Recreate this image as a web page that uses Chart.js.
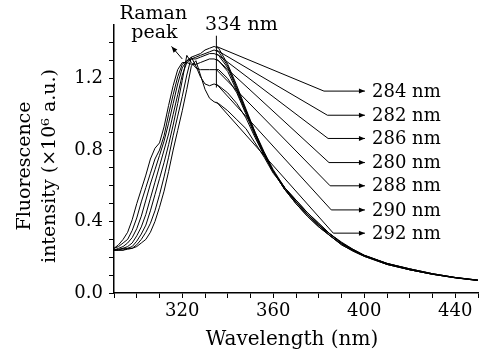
<!DOCTYPE html>
<html>
<head>
<meta charset="utf-8">
<script src="https://cdn.jsdelivr.net/npm/chart.js@4.4.1/dist/chart.umd.min.js"></script>
<style>
  html, body { margin: 0; padding: 0; background: #fff; }
  #wrap { width: 481px; height: 354px; }
</style>
</head>
<body>
<div id="wrap"><canvas id="spectra"></canvas></div>
<script>
// wavelength grid (nm)
const wavelengths = [290, 292, 294, 296, 298, 300, 302, 304, 306, 308, 310, 312, 314, 316, 318, 320, 322, 324, 326, 328, 330, 332, 334, 336,
                     340, 344, 348, 352, 356, 360, 365, 370, 375, 380, 385, 390, 395, 400, 410, 420, 430, 440, 450];

// fluorescence intensity (x10^6 a.u.) for each excitation wavelength
const ex280 = [0.25, 0.27, 0.30, 0.34, 0.41, 0.50, 0.58, 0.66, 0.75, 0.81, 0.84, 0.93, 1.05, 1.16, 1.25, 1.29, 1.29, 1.28, 1.28, 1.29, 1.30, 1.31, 1.31, 1.30,
               1.24, 1.13, 1.01, 0.89, 0.78, 0.68, 0.58, 0.50, 0.43, 0.37, 0.32, 0.27, 0.235, 0.205, 0.16, 0.13, 0.105, 0.085, 0.07];
const ex282 = [0.25, 0.26, 0.28, 0.30, 0.35, 0.42, 0.51, 0.59, 0.67, 0.75, 0.80, 0.88, 1.00, 1.11, 1.21, 1.28, 1.30, 1.31, 1.32, 1.33, 1.34, 1.35, 1.36, 1.35,
               1.27, 1.15, 1.02, 0.90, 0.78, 0.68, 0.58, 0.50, 0.43, 0.37, 0.32, 0.27, 0.235, 0.205, 0.16, 0.13, 0.105, 0.085, 0.07];
const ex284 = [0.24, 0.25, 0.26, 0.28, 0.31, 0.36, 0.43, 0.52, 0.61, 0.69, 0.77, 0.85, 0.95, 1.06, 1.17, 1.26, 1.30, 1.32, 1.33, 1.34, 1.36, 1.37, 1.38, 1.37,
               1.28, 1.16, 1.03, 0.90, 0.79, 0.69, 0.59, 0.51, 0.44, 0.38, 0.33, 0.28, 0.24, 0.21, 0.165, 0.13, 0.105, 0.086, 0.071];
const ex286 = [0.24, 0.245, 0.25, 0.26, 0.28, 0.32, 0.37, 0.44, 0.53, 0.62, 0.71, 0.80, 0.89, 1.00, 1.11, 1.22, 1.29, 1.31, 1.31, 1.32, 1.33, 1.34, 1.34, 1.33,
               1.26, 1.14, 1.02, 0.89, 0.78, 0.68, 0.58, 0.51, 0.44, 0.38, 0.32, 0.275, 0.24, 0.21, 0.16, 0.13, 0.105, 0.085, 0.07];
const ex288 = [0.24, 0.24, 0.25, 0.25, 0.26, 0.29, 0.33, 0.38, 0.46, 0.55, 0.64, 0.73, 0.83, 0.94, 1.06, 1.19, 1.33, 1.29, 1.26, 1.25, 1.25, 1.25, 1.25, 1.25,
               1.20, 1.12, 1.00, 0.88, 0.77, 0.68, 0.59, 0.51, 0.44, 0.38, 0.33, 0.28, 0.24, 0.21, 0.165, 0.135, 0.108, 0.087, 0.072];
const ex290 = [0.24, 0.24, 0.24, 0.25, 0.25, 0.27, 0.30, 0.34, 0.39, 0.46, 0.55, 0.65, 0.76, 0.88, 0.99, 1.10, 1.22, 1.32, 1.27, 1.21, 1.17, 1.16, 1.17, 1.16,
               1.12, 1.06, 0.98, 0.87, 0.77, 0.68, 0.59, 0.52, 0.45, 0.39, 0.33, 0.28, 0.245, 0.21, 0.165, 0.135, 0.108, 0.087, 0.072];
const ex292 = [0.24, 0.24, 0.24, 0.245, 0.25, 0.26, 0.28, 0.30, 0.34, 0.40, 0.48, 0.57, 0.68, 0.80, 0.91, 1.02, 1.14, 1.27, 1.30, 1.22, 1.14, 1.09, 1.07, 1.06,
               1.02, 0.97, 0.92, 0.84, 0.76, 0.67, 0.59, 0.52, 0.45, 0.39, 0.33, 0.285, 0.245, 0.212, 0.166, 0.135, 0.108, 0.087, 0.072];

const excitation = ["280 nm", "282 nm", "284 nm", "286 nm", "288 nm", "290 nm", "292 nm"];
const seriesList = [ex280, ex282, ex284, ex286, ex288, ex290, ex292];

// labels on the right, top to bottom
const labelOrder = ["284 nm", "282 nm", "286 nm", "280 nm", "288 nm", "290 nm", "292 nm"];
const labelLevels = [1.13, 0.995, 0.865, 0.73, 0.60, 0.465, 0.335];
const bendAt = [382.3, 383.8, 384.1, 384.5, 385.0, 385.5, 386.4];

const xLabelTicks = [320, 360, 400, 440];
const yLabelTicks = [0.0, 0.4, 0.8, 1.2];

const FONT = "'DejaVu Serif', serif";

function arrowHead(ctx, x0, y0, x1, y1, len, half) {
    const a = Math.atan2(y1 - y0, x1 - x0);
    ctx.beginPath();
    ctx.moveTo(x1, y1);
    ctx.lineTo(x1 - len * Math.cos(a) + half * Math.sin(a), y1 - len * Math.sin(a) - half * Math.cos(a));
    ctx.lineTo(x1 - len * Math.cos(a) - half * Math.sin(a), y1 - len * Math.sin(a) + half * Math.cos(a));
    ctx.closePath();
    ctx.fill();
}

const annotations = {
    id: "annotations",
    afterDatasetsDraw(chart) {
        const ctx = chart.ctx, xs = chart.scales.x, ys = chart.scales.y;
        const px = v => xs.getPixelForValue(v), py = v => ys.getPixelForValue(v);
        ctx.save();
        ctx.strokeStyle = "#000";
        ctx.fillStyle = "#000";
        ctx.lineWidth = 1;

        // marker at 334 nm
        ctx.beginPath();
        ctx.moveTo(px(335), py(1.44));
        ctx.lineTo(px(335), py(1.15));
        ctx.stroke();

        // leader lines to the excitation labels
        const i334 = wavelengths.indexOf(334);
        ctx.font = "18px " + FONT;
        ctx.textBaseline = "middle";
        ctx.textAlign = "left";
        labelOrder.forEach((lab, k) => {
            const s = seriesList[excitation.indexOf(lab)];
            const y0 = py(s[i334]), y1 = py(labelLevels[k]);
            ctx.beginPath();
            ctx.moveTo(px(335), y0);
            ctx.lineTo(px(bendAt[k]), y1);
            ctx.lineTo(px(400.3), y1);
            ctx.stroke();
            arrowHead(ctx, px(bendAt[k]), y1, px(400.3), y1, 6, 2.5);
            ctx.fillText(lab, px(403.4), y1 + 1);
        });

        // Raman peak arrow
        ctx.beginPath();
        ctx.moveTo(px(320), py(1.31));
        ctx.lineTo(px(315.3), py(1.38));
        ctx.stroke();
        arrowHead(ctx, px(320), py(1.31), px(315.3), py(1.38), 6, 2.5);

        ctx.textAlign = "center";
        ctx.font = "19px " + FONT;
        ctx.fillText("Raman", px(307.3), 14);
        ctx.fillText("peak", px(307.8), 33);
        ctx.fillText("334 nm", px(346), 25);

        // axis titles
        ctx.font = "20px " + FONT;
        ctx.fillText("Wavelength (nm)", 292, 340);
        ctx.font = "19px " + FONT;
        ctx.translate(25, 166);
        ctx.rotate(-Math.PI / 2);
        ctx.fillText("Fluorescence", 0, 0);
        ctx.fillText("intensity (\u00d710\u2076 a.u.)", 0, 25);
        ctx.restore();
    }
};

new Chart(document.getElementById("spectra"), {
    type: "line",
    data: {
        datasets: seriesList.map((vals, i) => ({
            label: excitation[i],
            data: wavelengths.map((w, j) => ({ x: w, y: vals[j] })),
            borderColor: "#000",
            borderWidth: 1,
            pointRadius: 0,
            tension: 0,
            fill: false
        }))
    },
    options: {
        responsive: true,
        maintainAspectRatio: false,
        animation: false,
        layout: { padding: { top: 25, right: 0, left: 0, bottom: 0 } },
        plugins: { legend: { display: false }, tooltip: { enabled: false } },
        scales: {
            x: {
                type: "linear",
                min: 290,
                max: 450,
                afterFit: s => { s.height = 61; },
                border: { color: "#000", width: 1.5 },
                grid: { drawOnChartArea: false, color: "#000", tickLength: 5 },
                ticks: {
                    stepSize: 10,
                    autoSkip: false,
                    maxRotation: 0,
                    padding: 3,
                    color: "#000",
                    font: { family: FONT, size: 18 },
                    callback: v => xLabelTicks.includes(v) ? String(v) : ""
                }
            },
            y: {
                min: 0,
                max: 1.5,
                afterFit: s => { s.width = 114; },
                afterBuildTicks: s => { s.ticks = s.ticks.filter(t => t.value < 1.45); },
                border: { color: "#000", width: 1.5 },
                grid: { drawOnChartArea: false, color: "#000", tickLength: 5 },
                ticks: {
                    stepSize: 0.1,
                    autoSkip: false,
                    padding: 6,
                    color: "#000",
                    font: { family: FONT, size: 18 },
                    callback: v => yLabelTicks.some(t => Math.abs(t - v) < 1e-6) ? v.toFixed(1) : ""
                }
            }
        }
    },
    plugins: [annotations]
});
</script>
</body>
</html>
